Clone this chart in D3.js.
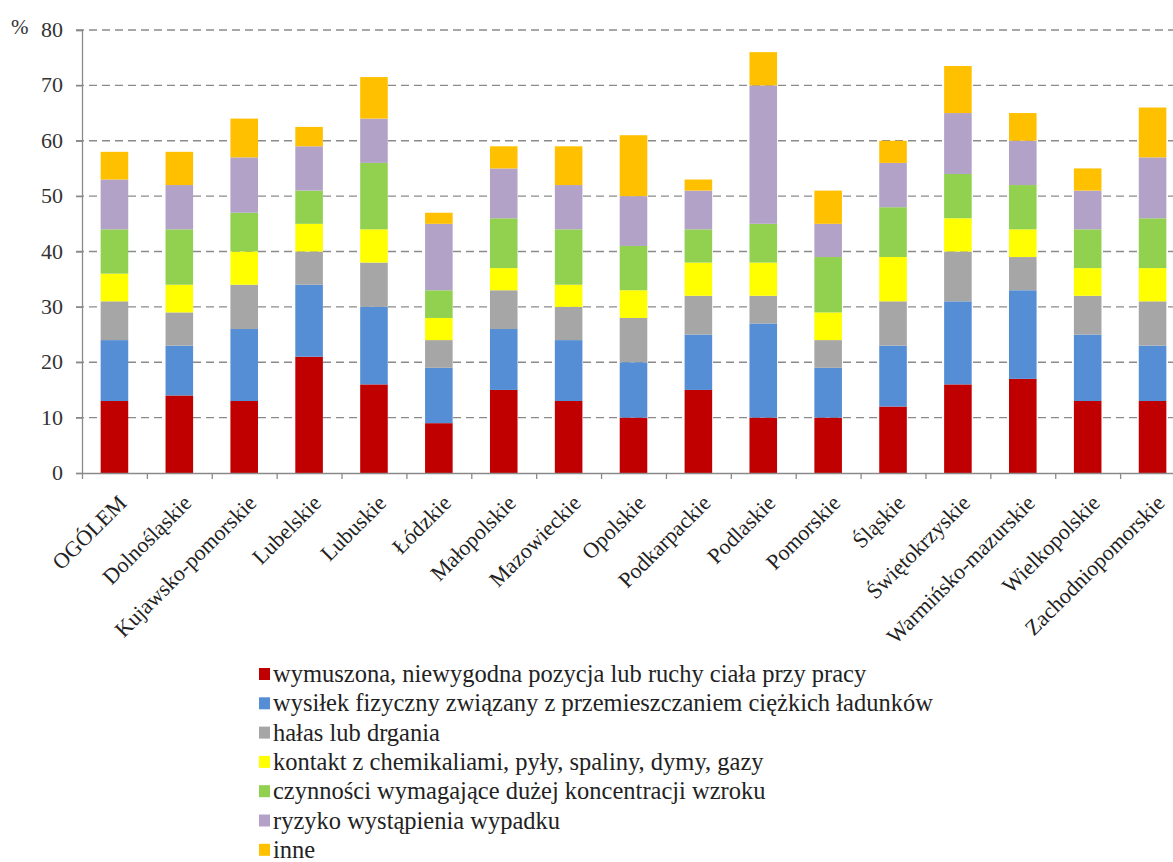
<!DOCTYPE html>
<html lang="pl">
<head>
<meta charset="utf-8">
<script src="https://cdn.jsdelivr.net/npm/d3@7/dist/d3.min.js"></script>
<style>
  html, body { margin: 0; padding: 0; background: #fff; }
</style>
</head>
<body>
<svg id="chart" width="1173" height="862"></svg>
<script>
// Regions (województwa) plus the national total
const regions = ["OGÓLEM", "Dolnośląskie", "Kujawsko-pomorskie", "Lubelskie", "Lubuskie",
  "Łódzkie", "Małopolskie", "Mazowieckie", "Opolskie", "Podkarpackie", "Podlaskie",
  "Pomorskie", "Śląskie", "Świętokrzyskie", "Warmińsko-mazurskie", "Wielkopolskie",
  "Zachodniopomorskie"];

// Share of workers exposed to each factor, % (stacked in this order)
const wymuszonaPozycja = [13, 14, 13, 21, 16, 9, 15, 13, 10, 15, 10, 10, 12, 16, 17, 13, 13];
const wysilekFizyczny  = [11, 9, 13, 13, 14, 10, 11, 11, 10, 10, 17, 9, 11, 15, 16, 12, 10];
const halas            = [7, 6, 8, 6, 8, 5, 7, 6, 8, 7, 5, 5, 8, 9, 6, 7, 8];
const chemikalia       = [5, 5, 6, 5, 6, 4, 4, 4, 5, 6, 6, 5, 8, 6, 5, 5, 6];
const wzrok            = [8, 10, 7, 6, 12, 5, 9, 10, 8, 6, 7, 10, 9, 8, 8, 7, 9];
const ryzykoWypadku    = [9, 8, 10, 8, 8, 12, 9, 8, 9, 7, 25, 6, 8, 11, 8, 7, 11];
const inne             = [5, 6, 7, 3.5, 7.5, 2, 4, 7, 11, 2, 6, 6, 4, 8.5, 5, 4, 9];

const seriesNames = [
  "wymuszona, niewygodna pozycja lub ruchy ciała przy pracy",
  "wysiłek fizyczny związany z przemieszczaniem ciężkich ładunków",
  "hałas lub drgania",
  "kontakt z chemikaliami, pyły, spaliny, dymy, gazy",
  "czynności wymagające dużej koncentracji wzroku",
  "ryzyko wystąpienia wypadku",
  "inne"
];
const seriesValues = [wymuszonaPozycja, wysilekFizyczny, halas, chemikalia, wzrok, ryzykoWypadku, inne];
const seriesColors = ["#c00000", "#558ed5", "#a6a6a6", "#ffff00", "#92d050", "#b3a2c7", "#ffc000"];

const yTicks = [0, 10, 20, 30, 40, 50, 60, 70, 80];

const font = "Liberation Serif";

// Table of rows for d3.stack
const keys = seriesNames.map((_, i) => "s" + i);
const rows = regions.map((r, j) => {
  const row = { region: r };
  seriesValues.forEach((vals, i) => { row[keys[i]] = vals[j]; });
  return row;
});
const stacked = d3.stack().keys(keys)(rows);

const svg = d3.select("#chart");
svg.append("rect").attr("width", 1173).attr("height", 862).attr("fill", "#fff");

const plotLeft = 82, plotRight = 1185, plotTop = 30, plotBottom = 473;

const x = d3.scaleBand()
  .domain(regions)
  .range([plotLeft, plotRight])
  .paddingInner(0.575)
  .paddingOuter(0.2875);
const y = d3.scaleLinear().domain([0, 80]).range([plotBottom, plotTop]);

const axisColor = "#8a8a8a";

// Dashed horizontal gridlines
svg.append("g")
  .selectAll("line")
  .data(yTicks.filter(d => d > 0))
  .join("line")
  .attr("x1", plotLeft - 6).attr("x2", plotRight)
  .attr("y1", d => y(d)).attr("y2", d => y(d))
  .attr("stroke", axisColor)
  .attr("stroke-width", 1.3)
  .attr("stroke-dasharray", "8,5");

// Stacked bars
svg.append("g")
  .selectAll("g")
  .data(stacked)
  .join("g")
  .attr("fill", (d, i) => seriesColors[i])
  .selectAll("rect")
  .data(d => d)
  .join("rect")
  .attr("x", d => x(d.data.region))
  .attr("width", x.bandwidth())
  .attr("y", d => y(d[1]))
  .attr("height", d => y(d[0]) - y(d[1]));

// Y axis
const yAxis = svg.append("g")
  .attr("transform", `translate(${plotLeft},0)`)
  .call(d3.axisLeft(y).tickValues(yTicks).tickSize(6).tickPadding(13).tickFormat(d3.format("d")));
yAxis.attr("font-family", font);
yAxis.select(".domain").attr("stroke", axisColor).attr("stroke-width", 1.3);
yAxis.selectAll(".tick line").attr("stroke", axisColor).attr("stroke-width", 1.3);
yAxis.selectAll(".tick text")
  .attr("font-family", font)
  .attr("font-size", 22)
  .attr("fill", "#333")
  .attr("dy", "0.3em");

svg.append("text")
  .attr("x", 11).attr("y", y(80) + 4)
  .attr("font-family", font)
  .attr("font-size", 21)
  .attr("fill", "#333")
  .text("%");

// X axis with ticks between categories
const xIdx = d3.scaleLinear().domain([0, regions.length]).range([plotLeft, plotRight]);
const xAxis = svg.append("g")
  .attr("transform", `translate(0,${plotBottom})`)
  .call(d3.axisBottom(xIdx).tickValues(d3.range(regions.length + 1)).tickSize(6).tickSizeOuter(0).tickFormat(""));
xAxis.select(".domain").attr("stroke", axisColor).attr("stroke-width", 1.3);
xAxis.selectAll(".tick line").attr("stroke", axisColor).attr("stroke-width", 1.3);

// Rotated category labels
svg.append("g")
  .selectAll("text")
  .data(regions)
  .join("text")
  .attr("transform", d => `translate(${x(d) + x.bandwidth() / 2 + 8},${plotBottom + 26}) rotate(-45)`)
  .attr("text-anchor", "end")
  .attr("dy", "0.35em")
  .attr("font-family", font)
  .attr("font-size", 22)
  .attr("fill", "#222")
  .text(d => d);

// Legend
const legend = svg.append("g")
  .selectAll("g")
  .data(seriesNames)
  .join("g")
  .attr("transform", (d, i) => `translate(259,${674 + i * 29.3})`);
legend.append("rect")
  .attr("x", 0).attr("y", -6)
  .attr("width", 11).attr("height", 12)
  .attr("fill", (d, i) => seriesColors[i]);
legend.append("text")
  .attr("x", 14).attr("y", 8)
  .attr("font-family", font)
  .attr("font-size", 24.5)
  .attr("fill", "#222")
  .text(d => d);
</script>
</body>
</html>
